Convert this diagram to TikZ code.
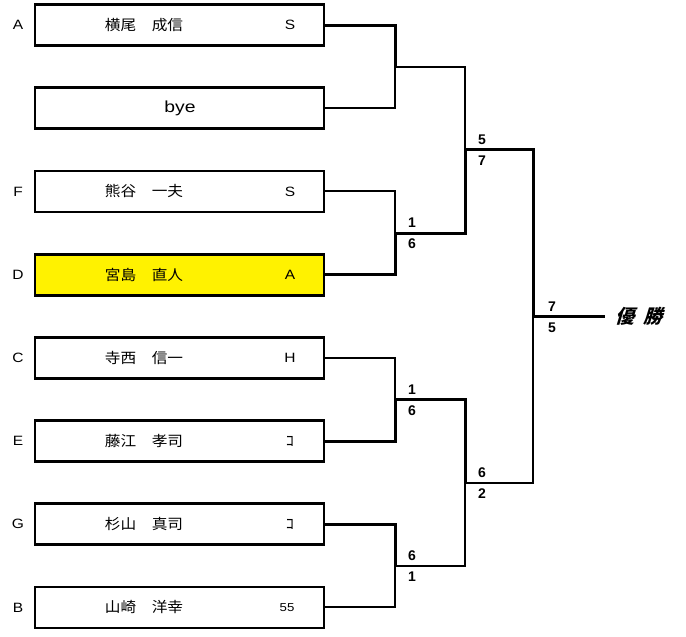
\documentclass[tikz,border=0pt]{standalone}
\usepackage{fontspec}
\setmainfont{Liberation Sans}[FakeStretch=1.15]
\newfontfamily\jp{Noto Sans CJK JP}[FakeStretch=1.08]
\newfontfamily\jpw{Noto Sans CJK JP}[FakeSlant=0.3]
\newfontfamily\scorefont{Liberation Sans}
\begin{document}
\begin{tikzpicture}[x=1pt,y=-1pt,
  pbox/.style={draw, line width=2.8pt, minimum width=289pt, minimum height=41pt, outer sep=0pt, inner sep=0pt},
  win/.style={line width=3pt},
  lose/.style={line width=2pt},
  seed/.style={font=\fontsize{13.5}{15}\selectfont, inner sep=0pt},
  pname/.style={font=\jp\fontsize{14.5}{16}\selectfont, inner sep=0pt},
  grade/.style={font=\fontsize{13.5}{15}\selectfont, inner sep=0pt},
  score/.style={font=\scorefont\bfseries\fontsize{14}{16}\selectfont, inner sep=0pt}]
\fill[white] (0,0) rectangle (686,637);
\useasboundingbox (0,0) rectangle (686,637);

% boxes
\node[pbox] (bA) at (179.5,25) {};
\node[pbox] (bY) at (179.5,108.2) {};
\node[pbox] (bF) at (179.5,191.4) {};
\node[pbox, fill=yellow] (bD) at (179.5,274.6) {};
\node[pbox] (bC) at (179.5,357.8) {};
\node[pbox] (bE) at (179.5,441) {};
\node[pbox] (bG) at (179.5,524.2) {};
\node[pbox] (bB) at (179.5,607.4) {};

% seeds
\node[seed] (lA) at (18,25) {A};
\node[seed] (lF) at (18,191.4) {F};
\node[seed] (lD) at (18,274.6) {D};
\node[seed] (lC) at (18,357.8) {C};
\node[seed] (lE) at (18,441) {E};
\node[seed] (lG) at (18,524.2) {G};
\node[seed] (lB) at (18,607.4) {B};

% names
\node[pname] (nA) at (144,25) {横尾　成信};
\node[font=\fontsize{16}{18}\selectfont, inner sep=0pt, xscale=1.05] (nY) at (180,108.2) {bye};
\node[pname] (nF) at (144,191.4) {熊谷　一夫};
\node[pname] (nD) at (144,274.6) {宮島　直人};
\node[pname] (nC) at (144,357.8) {寺西　信一};
\node[pname] (nE) at (144,441) {藤江　孝司};
\node[pname] (nG) at (144,524.2) {杉山　真司};
\node[pname] (nB) at (144,607.4) {山崎　洋幸};

% grades
\node[grade] (gA) at (290,25) {S};
\node[grade] (gF) at (290,191.4) {S};
\node[grade] (gD) at (290,274.6) {A};
\node[grade] (gC) at (290,357.8) {H};
\node[grade, font=\jp\fontsize{15}{16}\selectfont] (gE) at (290,441) {ｺ};
\node[grade, font=\jp\fontsize{15}{16}\selectfont] (gG) at (290,524.2) {ｺ};
\node[grade, font=\fontsize{11.5}{13}\selectfont] (gB) at (287,607.4) {55};

% junctions
\coordinate (m1) at (395,66.6);
\coordinate (m2) at (395,233);
\coordinate (m4) at (395,399.4);
\coordinate (m5) at (395,565.8);
\coordinate (m3) at (465,149.8);
\coordinate (m6) at (465,482.6);
\coordinate (mf) at (533,316.2);
\coordinate (champ) at (605,316.2);

% round 1
\draw[win]  (bA.east) -- (bA.east -| m1) -- (m1);
\draw[lose] (bY.east) -- (bY.east -| m1) -- (m1);
\draw[lose] (bF.east) -- (bF.east -| m2) -- (m2);
\draw[win]  (bD.east) -- (bD.east -| m2) -- (m2);
\draw[lose] (bC.east) -- (bC.east -| m4) -- (m4);
\draw[win]  (bE.east) -- (bE.east -| m4) -- (m4);
\draw[win]  (bG.east) -- (bG.east -| m5) -- (m5);
\draw[lose] (bB.east) -- (bB.east -| m5) -- (m5);

% round 2
\draw[lose] (m1) -- (m1 -| m3) -- (m3);
\draw[win]  (m2) -- (m2 -| m3) -- (m3);
\draw[win]  (m4) -- (m4 -| m6) -- (m6);
\draw[lose] (m5) -- (m5 -| m6) -- (m6);

% round 3
\draw[win]  (m3) -- (m3 -| mf) -- (mf);
\draw[lose] (m6) -- (m6 -| mf) -- (mf);
\draw[win]  (mf) -- (champ);

% scores
\node[score, anchor=south] (s2a) at (412,228) {1};
\node[score, anchor=north] (s2b) at (412,239) {6};
\node[score, anchor=south] (s4a) at (412,394.4) {1};
\node[score, anchor=north] (s4b) at (412,405.4) {6};
\node[score, anchor=south] (s5a) at (412,560.8) {6};
\node[score, anchor=north] (s5b) at (412,571.8) {1};
\node[score, anchor=south] (s3a) at (482,144.8) {5};
\node[score, anchor=north] (s3b) at (482,155.8) {7};
\node[score, anchor=south] (s6a) at (482,477.6) {6};
\node[score, anchor=north] (s6b) at (482,488.6) {2};
\node[score, anchor=south] (sfa) at (552,311.2) {7};
\node[score, anchor=north] (sfb) at (552,322.2) {5};

% champion
\node[font=\jpw\bfseries\fontsize{19}{21}\selectfont, inner sep=0pt, anchor=west] (win) at (615,316.2) {優\hspace{9pt}勝};
\end{tikzpicture}
\end{document}
